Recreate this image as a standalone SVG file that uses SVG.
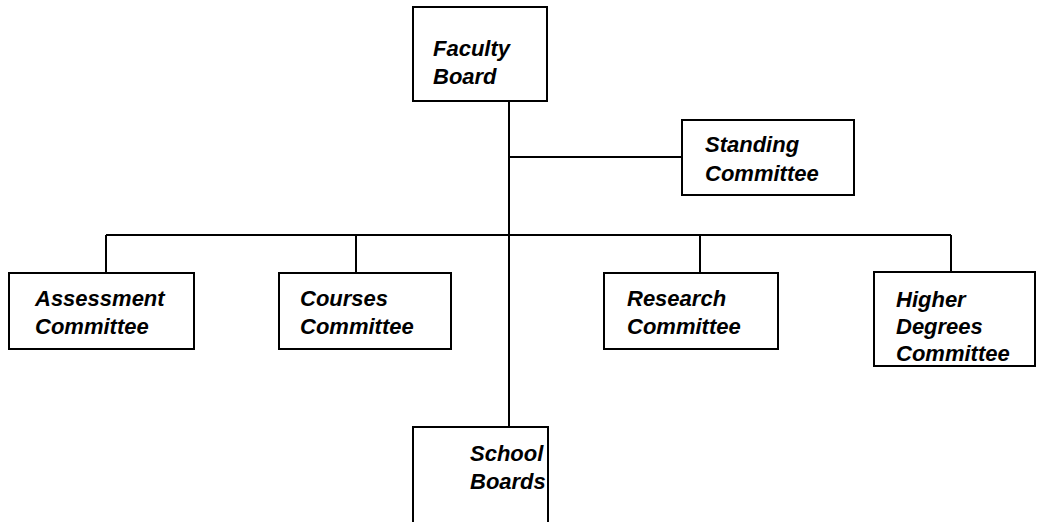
<svg xmlns="http://www.w3.org/2000/svg" width="1041" height="522" viewBox="0 0 1041 522">
<style>
.box{fill:#fff;stroke:#000;stroke-width:2}
.ln{stroke:#000;stroke-width:2;fill:none}
text{font-family:"Liberation Sans",Arial,sans-serif;font-weight:bold;font-style:italic;font-size:22px;fill:#000}
</style>
<rect width="1041" height="522" fill="#fff"/>
<g id="connectors">
<line class="ln" x1="509" y1="101" x2="509" y2="427"/>
<line class="ln" x1="509" y1="157" x2="682" y2="157"/>
<line class="ln" x1="106" y1="235" x2="951" y2="235"/>
<line class="ln" x1="106" y1="235" x2="106" y2="273"/>
<line class="ln" x1="356" y1="235" x2="356" y2="273"/>
<line class="ln" x1="700" y1="235" x2="700" y2="273"/>
<line class="ln" x1="951" y1="235" x2="951" y2="272"/>
</g>
<g id="faculty-board">
<rect class="box" x="413" y="7" width="134" height="94"/>
<text x="433" y="56">Faculty</text>
<text x="433" y="84">Board</text>
</g>
<g id="standing-committee">
<rect class="box" x="682" y="120" width="172" height="75"/>
<text x="705" y="152">Standing</text>
<text x="705" y="181">Committee</text>
</g>
<g id="assessment-committee">
<rect class="box" x="9" y="273" width="185" height="76"/>
<text x="35" y="306">Assessment</text>
<text x="35" y="334">Committee</text>
</g>
<g id="courses-committee">
<rect class="box" x="279" y="273" width="172" height="76"/>
<text x="300" y="306">Courses</text>
<text x="300" y="334">Committee</text>
</g>
<g id="research-committee">
<rect class="box" x="604" y="273" width="174" height="76"/>
<text x="627" y="306">Research</text>
<text x="627" y="334">Committee</text>
</g>
<g id="higher-degrees-committee">
<rect class="box" x="874" y="272" width="161" height="94"/>
<text x="896" y="307">Higher</text>
<text x="896" y="334">Degrees</text>
<text x="896" y="361">Committee</text>
</g>
<g id="school-boards">
<rect class="box" x="413" y="427" width="135" height="100"/>
<text x="470" y="461">School</text>
<text x="470" y="489">Boards</text>
</g>
</svg>
